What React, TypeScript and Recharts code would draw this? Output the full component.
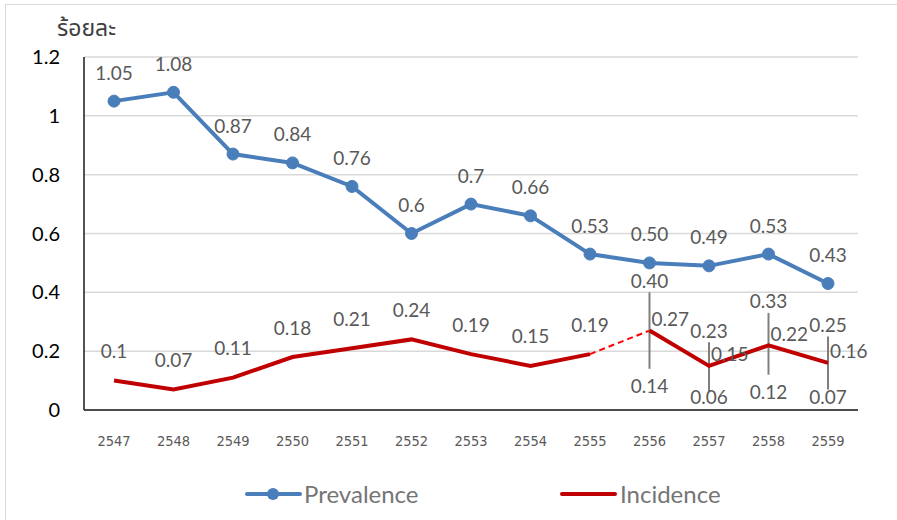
import React from 'react';
import {
  LineChart,
  Line,
  XAxis,
  YAxis,
  CartesianGrid,
  ErrorBar,
  LabelList
} from 'recharts';

// Thai Buddhist-era years
const years = ['2547', '2548', '2549', '2550', '2551', '2552', '2553', '2554', '2555', '2556', '2557', '2558', '2559'];

const prevalence = [1.05, 1.08, 0.87, 0.84, 0.76, 0.6, 0.7, 0.66, 0.53, 0.5, 0.49, 0.53, 0.43];
const prevalenceLabels = ['1.05', '1.08', '0.87', '0.84', '0.76', '0.6', '0.7', '0.66', '0.53', '0.50', '0.49', '0.53', '0.43'];

const incidence = [0.1, 0.07, 0.11, 0.18, 0.21, 0.24, 0.19, 0.15, 0.19, 0.27, 0.15, 0.22, 0.16];
const incidenceLabels = ['0.1', '0.07', '0.11', '0.18', '0.21', '0.24', '0.19', '0.15', '0.19', '0.27', '0.15', '0.22', '0.16'];

// confidence range, only for the survey years (2556 onwards)
const incidenceLow = [null, null, null, null, null, null, null, null, null, 0.14, 0.06, 0.12, 0.07];
const incidenceHigh = [null, null, null, null, null, null, null, null, null, 0.40, 0.23, 0.33, 0.25];
const rangeLabelsLow = ['', '', '', '', '', '', '', '', '', '0.14', '0.06', '0.12', '0.07'];
const rangeLabelsHigh = ['', '', '', '', '', '', '', '', '', '0.40', '0.23', '0.33', '0.25'];

const yTicks = [0, 0.2, 0.4, 0.6, 0.8, 1, 1.2];

const SPLIT = 9; // first index of the second incidence segment

const BLUE = '#4A7EBB';
const RED = '#C00000';
const GREY_TEXT = '#595959';
const FONT = 'Lato, "Noto Sans", sans-serif';

const data = years.map((year, i) => ({
  year,
  prevalence: prevalence[i],
  incA: i < SPLIT ? incidence[i] : null,
  incB: i >= SPLIT ? incidence[i] : null,
  incDash: i === SPLIT - 1 || i === SPLIT ? incidence[i] : null,
  err:
    incidenceLow[i] != null && incidenceHigh[i] != null
      ? [incidence[i] - (incidenceLow[i] as number), (incidenceHigh[i] as number) - incidence[i]]
      : null,
  hi: incidenceHigh[i],
  lo: incidenceLow[i]
}));

const makeLabel = (labels: string[], dx: number, dy: number, anchor: 'middle' | 'start', maxY = 9999) => (props: any) => {
  const { x, y, index, value } = props;
  if (value == null || !labels[index]) return null;
  return (
    <text
      x={x + dx}
      y={Math.min(y + dy, maxY)}
      textAnchor={anchor}
      dominantBaseline="central"
      fill={GREY_TEXT}
      fontSize={19}
      fontFamily={FONT}
    >
      {labels[index]}
    </text>
  );
};

const Legendish = () => (
  <div style={{ position: 'absolute', top: 480, left: 0, width: 897, height: 30, fontFamily: FONT, fontSize: 24, color: '#757575' }}>
    <svg style={{ position: 'absolute', left: 245, top: 6 }} width={58} height={16}>
      <line x1={2} y1={8} x2={55} y2={8} stroke={BLUE} strokeWidth={4} strokeLinecap="round" />
      <circle cx={28} cy={8} r={6} fill={BLUE} />
    </svg>
    <span style={{ position: 'absolute', left: 304, top: 0, lineHeight: '28px' }}>Prevalence</span>
    <svg style={{ position: 'absolute', left: 560, top: 6 }} width={58} height={16}>
      <line x1={2} y1={8} x2={55} y2={8} stroke={RED} strokeWidth={4} strokeLinecap="round" />
    </svg>
    <span style={{ position: 'absolute', left: 620, top: 0, lineHeight: '28px' }}>Incidence</span>
  </div>
);

const App: React.FC = () => {
  return (
    <div style={{ position: 'absolute', left: 0, top: 0, width: 897, height: 520, background: '#fff', overflow: 'hidden' }}>
      <div style={{ position: 'absolute', left: 5, top: 4, right: 0, bottom: -2, borderLeft: '1px solid #D9D9D9', borderTop: '1px solid #D9D9D9' }} />
      <div style={{ position: 'absolute', left: 57, top: 12, fontFamily: '"Noto Sans Thai", "Noto Sans", Lato, sans-serif', fontSize: 23, color: '#404040' }}>
        ร้อยละ
      </div>
      <LineChart
        width={897}
        height={520}
        data={data}
        margin={{ top: 57, right: 39, left: 0, bottom: 70 }}
      >
        <CartesianGrid vertical={false} stroke="#D9D9D9" strokeWidth={1.5} />
        <XAxis
          dataKey="year"
          height={40}
          padding={{ left: 30, right: 30 }}
          tickLine={false}
          tickSize={0}
          tickMargin={26}
          axisLine={{ stroke: '#1A1A1A', strokeWidth: 1.5 }}
          tick={{ fill: GREY_TEXT, fontSize: 14.5, fontFamily: '"Liberation Sans Narrow", "DejaVu Sans Condensed", Arial, sans-serif' }}
          interval={0}
        />
        <YAxis
          width={84}
          domain={[0, 1.2]}
          ticks={yTicks}
          tickLine={false}
          tickSize={0}
          tickMargin={24}
          axisLine={{ stroke: '#1A1A1A', strokeWidth: 1.5 }}
          tick={{ fill: '#000', fontSize: 20, fontFamily: FONT }}
        />
        <Line
          dataKey="prevalence"
          stroke={BLUE}
          strokeWidth={4}
          dot={{ r: 6, fill: BLUE, stroke: BLUE, strokeWidth: 1 }}
          activeDot={false}
          isAnimationActive={false}
        >
          <LabelList dataKey="prevalence" content={makeLabel(prevalenceLabels, 0, -29, 'middle')} />
        </Line>
        <Line
          dataKey="incDash"
          stroke="#FF0000"
          strokeWidth={2}
          strokeDasharray="6 4"
          dot={false}
          activeDot={false}
          connectNulls={false}
          isAnimationActive={false}
        />
        <Line
          dataKey="incA"
          stroke={RED}
          strokeWidth={4}
          dot={false}
          activeDot={false}
          isAnimationActive={false}
        >
          <LabelList dataKey="incA" content={makeLabel(incidenceLabels, 0, -30, 'middle')} />
        </Line>
        <Line
          dataKey="incB"
          stroke={RED}
          strokeWidth={4}
          dot={false}
          activeDot={false}
          isAnimationActive={false}
        >
          <ErrorBar dataKey="err" width={0} stroke="#7F7F7F" strokeWidth={2} direction="y" />
          <LabelList dataKey="incB" content={makeLabel(incidenceLabels, 2, -12, 'start')} />
        </Line>
        <Line
          dataKey="hi"
          stroke="none"
          dot={false}
          activeDot={false}
          legendType="none"
          isAnimationActive={false}
        >
          <LabelList dataKey="hi" content={makeLabel(rangeLabelsHigh, 0, -12, 'middle')} />
        </Line>
        <Line
          dataKey="lo"
          stroke="none"
          dot={false}
          activeDot={false}
          legendType="none"
          isAnimationActive={false}
        >
          <LabelList dataKey="lo" content={makeLabel(rangeLabelsLow, 0, 17, 'middle', 396)} />
        </Line>
      </LineChart>
      <Legendish />
    </div>
  );
};

export default App;
